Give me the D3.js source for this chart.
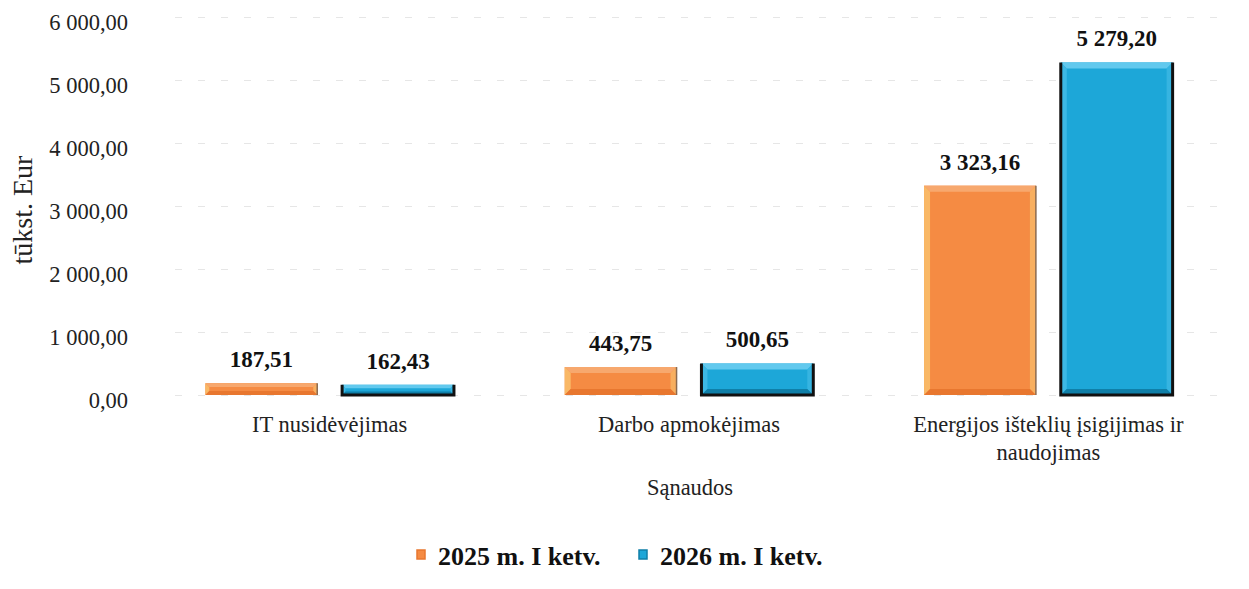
<!DOCTYPE html>
<html>
<head>
<meta charset="utf-8" />
<title>Sąnaudos</title>
<script src="https://d3js.org/d3.v7.min.js"></script>
<style>
  body { margin: 0; background-color: #ffffff; }
  svg { display: block; }
  svg text { font-family: "Liberation Serif", "Times New Roman", Times, serif; }
</style>
</head>
<body>
<svg id="chart"></svg>
<script>
// chart data
var categories = ["IT nusidėvėjimas", "Darbo apmokėjimas", "Energijos išteklių įsigijimas ir naudojimas"];
var categoryLines = [["IT nusidėvėjimas"], ["Darbo apmokėjimas"], ["Energijos išteklių įsigijimas ir", "naudojimas"]];
var seriesNames = ["2025 m. I ketv.", "2026 m. I ketv."];
var values2025 = [187.51, 443.75, 3323.16];
var values2026 = [162.43, 500.65, 5279.20];
var yTicks = [0, 1000, 2000, 3000, 4000, 5000, 6000];

var width = 1249, height = 589;
var margin = { top: 17, right: 21, bottom: 194, left: 150 };

// face, top bevel, side bevel, right/bottom bevel, outline
var palette = [
  { face: "#F58B43", top: "#F7A86E", side: "#F9B866", dark: "#E8772F", line: "#8a6a50" },
  { face: "#1DA7D8", top: "#62C9EE", side: "#3DB8E4", dark: "#0F7FA8", line: "#111111" }
];

var svg = d3.select("#chart").attr("width", width).attr("height", height);

var fmt = function(v) {
  var s = v.toFixed(2).split(".");
  return s[0].replace(/\B(?=(\d{3})+(?!\d))/g, " ") + "," + s[1];
};

var x = d3.scaleBand()
  .domain(categories)
  .range([margin.left, width - margin.right]);

var x1 = d3.scaleBand()
  .domain(seriesNames)
  .range([0, x.bandwidth()])
  .paddingInner(0.182)
  .paddingOuter(0.405);

var y = d3.scaleLinear()
  .domain([0, 6000])
  .range([height - margin.bottom, margin.top]);

// gridlines
svg.append("g")
  .selectAll("line")
  .data(yTicks)
  .join("line")
  .attr("x1", margin.left + 25)
  .attr("x2", width - margin.right)
  .attr("y1", function(d) { return Math.round(y(d)) + 0.5; })
  .attr("y2", function(d) { return Math.round(y(d)) + 0.5; })
  .attr("stroke", "#e6e6e6")
  .attr("stroke-width", 1)
  .attr("stroke-dasharray", "7,16");

// y axis
var yAxis = d3.axisLeft(y).tickValues(yTicks).tickSize(0).tickPadding(0).tickFormat(fmt);
svg.append("g")
  .attr("transform", "translate(128,5)")
  .call(yAxis)
  .call(function(g) { g.select(".domain").remove(); })
  .selectAll("text")
  .attr("font-family", "Liberation Serif")
  .attr("font-size", "22.5px")
  .attr("fill", "#222");

svg.append("text")
  .attr("transform", "translate(32,210) rotate(-90)")
  .attr("text-anchor", "middle")
  .attr("font-size", "28px")
  .attr("fill", "#222")
  .text("tūkst. Eur");

var rows = [];
categories.forEach(function(c, i) {
  rows.push({ cat: c, s: 0, v: values2025[i] });
  rows.push({ cat: c, s: 1, v: values2026[i] });
});

var bw = x1.bandwidth();

var bars = svg.append("g").selectAll("g")
  .data(rows)
  .join("g")
  .attr("transform", function(d) {
    return "translate(" + (x(d.cat) + x1(seriesNames[d.s])) + "," + y(d.v) + ")";
  });

// bevelled bar: base, then four edge trapezoids
function barH(d) { return y(0) - y(d.v); }
function bev(d) { return Math.min(6, barH(d) / 3); }

bars.append("rect")
  .attr("width", bw)
  .attr("height", barH)
  .attr("fill", function(d) { return palette[d.s].face; });

bars.append("path")
  .attr("fill", function(d) { return palette[d.s].top; })
  .attr("d", function(d) {
    var b = bev(d);
    return "M0,0L" + bw + ",0L" + (bw - b) + "," + b + "L" + b + "," + b + "Z";
  });
bars.append("path")
  .attr("fill", function(d) { return palette[d.s].side; })
  .attr("d", function(d) {
    var b = bev(d), h = barH(d);
    return "M0,0L" + b + "," + b + "L" + b + "," + (h - b) + "L0," + h + "Z";
  });
bars.append("path")
  .attr("fill", function(d) { return palette[d.s].side; })
  .attr("opacity", 0.8)
  .attr("d", function(d) {
    var b = bev(d), h = barH(d);
    return "M" + bw + ",0L" + (bw - b) + "," + b + "L" + (bw - b) + "," + (h - b) + "L" + bw + "," + h + "Z";
  });
bars.append("path")
  .attr("fill", function(d) { return palette[d.s].dark; })
  .attr("d", function(d) {
    var b = bev(d), h = barH(d);
    return "M0," + h + "L" + b + "," + (h - b) + "L" + (bw - b) + "," + (h - b) + "L" + bw + "," + h + "Z";
  });

// outline: dark on right (and sides/bottom for blue)
bars.append("path")
  .attr("fill", "none")
  .attr("stroke", function(d) { return palette[d.s].line; })
  .attr("stroke-width", function(d) { return d.s === 1 ? 3 : 1.5; })
  .attr("d", function(d) {
    var h = barH(d);
    if (d.s === 1) return "M0,0L0," + h + "L" + bw + "," + h + "L" + bw + ",0";
    return "M" + bw + ",0L" + bw + "," + h;
  });

// value labels
svg.append("g").selectAll("text")
  .data(rows)
  .join("text")
  .attr("x", function(d) { return x(d.cat) + x1(seriesNames[d.s]) + bw / 2; })
  .attr("y", function(d) { return y(d.v) - 16; })
  .attr("text-anchor", "middle")
  .attr("font-size", "23px")
  .attr("font-weight", "bold")
  .attr("fill", "#111")
  .text(function(d) { return fmt(d.v); });

// category labels
var catG = svg.append("g").selectAll("text")
  .data(categories)
  .join("text")
  .attr("x", function(d) { return x(d) + x.bandwidth() / 2; })
  .attr("y", 432)
  .attr("text-anchor", "middle")
  .attr("font-size", "22.5px")
  .attr("fill", "#222");
catG.selectAll("tspan")
  .data(function(d, i) { return categoryLines[i]; })
  .join("tspan")
  .attr("x", function() { return d3.select(this.parentNode).attr("x"); })
  .attr("dy", function(d, i) { return i === 0 ? 0 : 28; })
  .text(function(d) { return d; });

svg.append("text")
  .attr("x", 690)
  .attr("y", 495)
  .attr("text-anchor", "middle")
  .attr("font-size", "22.5px")
  .attr("fill", "#222")
  .text("Sąnaudos");

// legend
var legendX = [417, 639];
var legend = svg.append("g").selectAll("g")
  .data(seriesNames)
  .join("g")
  .attr("transform", function(d, i) { return "translate(" + legendX[i] + ",550)"; });
legend.append("rect")
  .attr("width", 8).attr("height", 9)
  .attr("fill", function(d, i) { return palette[i].face; })
  .attr("stroke", function(d, i) { return palette[i].dark; })
  .attr("stroke-width", 1.5);
legend.append("text")
  .attr("x", 21)
  .attr("y", 15)
  .attr("font-size", "26px")
  .attr("font-weight", "bold")
  .attr("fill", "#111")
  .text(function(d) { return d; });
</script>
</body>
</html>
